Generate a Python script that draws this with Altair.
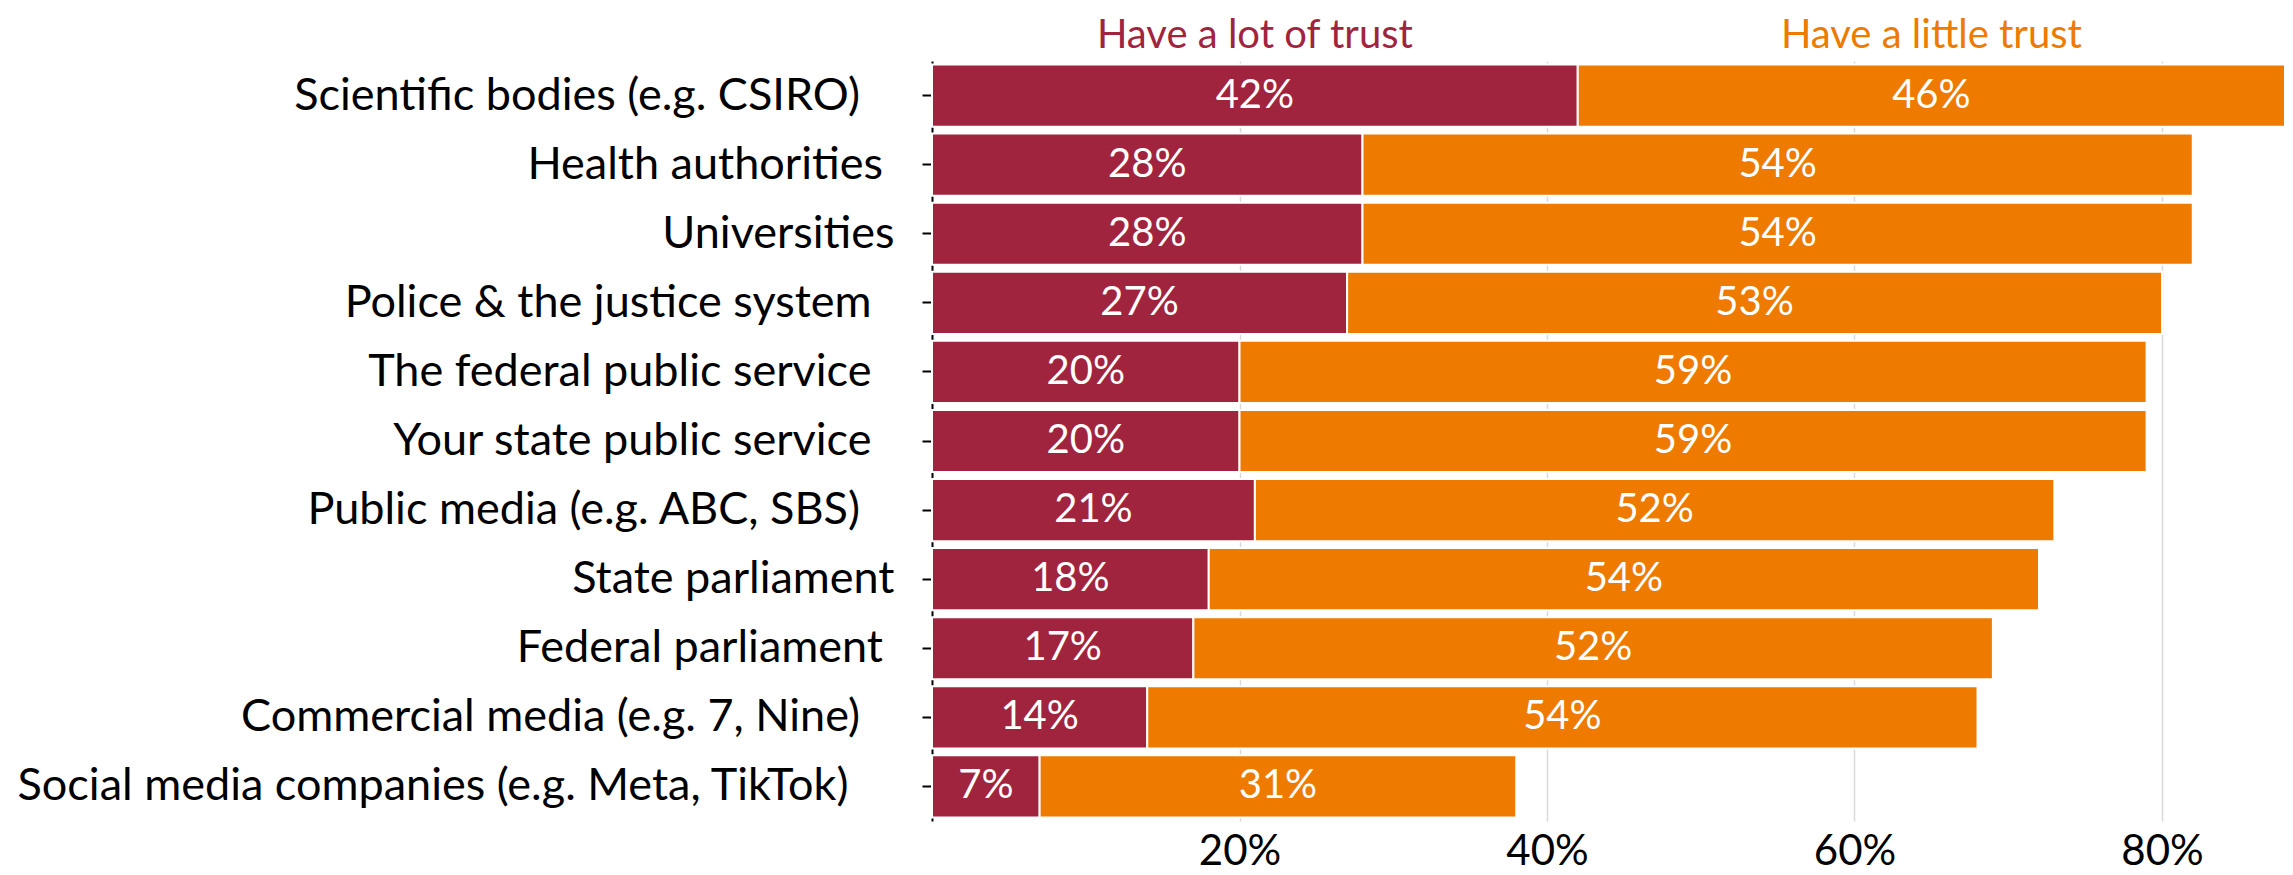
import altair as alt
import pandas as pd

# Trailing non-breaking spaces reproduce the source's trailing spaces; the
# final zero-width space keeps them from being trimmed away by the renderer.
def pad(text, n):
    return text + "\u00a0" * n + ("\u200b" if n else "")

categories = [
    pad("Scientific bodies (e.g. CSIRO)", 3),
    pad("Health authorities", 1),
    pad("Universities", 0),
    pad("Police & the justice system", 2),
    pad("The federal public service", 2),
    pad("Your state public service", 2),
    pad("Public media (e.g. ABC, SBS)", 3),
    pad("State parliament", 0),
    pad("Federal parliament", 1),
    pad("Commercial media (e.g. 7, Nine)", 3),
    pad("Social media companies (e.g. Meta, TikTok)", 4),
]
lot_of_trust = [42, 28, 28, 27, 20, 20, 21, 18, 17, 14, 7]
little_trust = [46, 54, 54, 53, 59, 59, 52, 54, 52, 54, 31]
series_names = ["Have a lot of trust", "Have a little trust"]
series_colors = ["#A1243F", "#EE7A00"]
x_ticks = [20, 40, 60, 80]

rows = []
for c, a, b in zip(categories, lot_of_trust, little_trust):
    rows.append({"category": c, "series": series_names[0], "value": a, "order": 0})
    rows.append({"category": c, "series": series_names[1], "value": b, "order": 1})
df = pd.DataFrame(rows)

FONT = "Lato"

base = alt.Chart(df).transform_stack(
    stack="value",
    groupby=["category"],
    sort=[alt.SortField("order", order="ascending")],
    as_=["x0", "x1"],
).transform_calculate(
    mid="(datum.x0 + datum.x1) / 2",
    label="datum.value + '%'",
)

color = alt.Color(
    "series:N",
    scale=alt.Scale(domain=series_names, range=series_colors),
    legend=None,
)

yenc = alt.Y(
    "category:N",
    sort=categories,
    title=None,
    scale=alt.Scale(paddingInner=0.1, paddingOuter=0.05),
    axis=alt.Axis(
        labelFont=FONT,
        labelFontSize=45,
        labelColor="black",
        labelPadding=28,
        labelLimit=2000,
        domainColor="black",
        domainWidth=2,
        tickColor="black",
        tickWidth=2,
        tickSize=10,
        grid=False,
    ),
)

xscale = alt.Scale(domain=[0, 88], nice=False, zero=True)

bars = base.mark_bar(stroke="white", strokeWidth=2).encode(
    y=yenc,
    x=alt.X(
        "x0:Q",
        scale=xscale,
        title=None,
        axis=alt.Axis(
            values=x_ticks,
            labelExpr="datum.value + '%'",
            labelFont=FONT,
            labelFontSize=42,
            labelColor="black",
            labelPadding=10,
            domain=False,
            ticks=False,
            grid=True,
            gridColor="#D9D9D9",
            gridWidth=1.5,
        ),
    ),
    x2="x1:Q",
    color=color,
)

values = base.mark_text(
    font=FONT, fontSize=40, color="white", align="center", baseline="middle"
).encode(
    y=alt.Y("category:N", sort=categories),
    x=alt.X("mid:Q", scale=xscale),
    text="label:N",
)

headers = base.transform_filter(
    alt.datum.category == categories[0]
).mark_text(
    font=FONT, fontSize=40, align="center", baseline="alphabetic"
).encode(
    x=alt.X("mid:Q", scale=xscale),
    y=alt.value(-13),
    text="series:N",
    color=color,
)

chart = alt.layer(bars, values, headers).properties(
    width=1353,
    height=760,
    autosize=alt.AutoSizeParams(type="none"),
    padding={"left": 924, "top": 53, "right": 0, "bottom": 54},
).configure_view(stroke=None)

chart.save("out.html", embed_options={"renderer": "svg", "actions": False})
